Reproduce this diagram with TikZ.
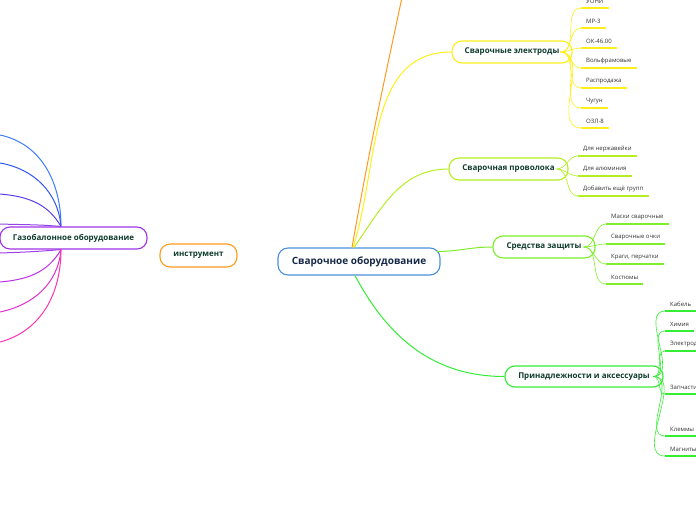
\documentclass[tikz,border=0pt]{standalone}
\usepackage{fontspec}
\setmainfont{Open Sans}
\usepackage{xcolor}
\definecolor{rootc}{HTML}{4A90D9}
\definecolor{roottxt}{HTML}{152848}
\definecolor{txtc}{HTML}{0F3B2E}
\definecolor{orc}{HTML}{FF9A1F}
\definecolor{yelc}{HTML}{FFEE1A}
\definecolor{ygc}{HTML}{B5EE22}
\definecolor{grc}{HTML}{7DEE2A}
\definecolor{grtc}{HTML}{33EE33}
\definecolor{purc}{HTML}{A033E8}
\definecolor{gaa}{HTML}{3D7BFF}
\definecolor{gab}{HTML}{3355F0}
\definecolor{gac}{HTML}{5B3DF0}
\definecolor{gad}{HTML}{9045EC}
\definecolor{gae}{HTML}{A040EC}
\definecolor{gaf}{HTML}{C030E8}
\definecolor{gag}{HTML}{E030D0}
\definecolor{gah}{HTML}{FF33B0}
\tikzstyle{root}=[draw=rootc, line width=1.1pt, rounded corners=10pt, fill=white,
		minimum width=162pt, minimum height=27pt, inner sep=0,
		font=\bfseries\fontsize{10}{12}\selectfont, text=roottxt]
\tikzstyle{br}=[line width=1.1pt, rounded corners=10pt, fill=white, minimum height=22pt,
		inner sep=0, font=\bfseries\fontsize{8}{10}\selectfont, text=txtc]
\tikzstyle{lf}=[anchor=south west, inner xsep=5pt, inner ysep=4pt,
		font=\fontsize{6}{7}\selectfont, text=black!80]
\tikzstyle{ln}=[line width=1pt]
\tikzstyle{lk}=[line width=0.6pt]
\tikzstyle{ul}=[line width=1.8pt]

\begin{document}
\begin{tikzpicture}[x=1pt,y=-1pt]
	\useasboundingbox (0,0) rectangle (696,520);
	\clip (0,0) rectangle (696,520);
	% centre and branches
	\node[root] (sv) at (359,261.5) {Сварочное оборудование};
	\node[br, draw=orc, minimum width=77pt, minimum height=23pt] (ins) at (198.5,255.5) {инструмент};
	\node[br, draw=purc, minimum width=147pt] (gas) at (73.5,238) {Газобалонное оборудование};
	\node[br, draw=yelc, minimum width=120pt] (el) at (512,52) {Сварочные электроды};
	\node[br, draw=ygc, minimum width=119pt] (pr) at (508.5,169) {Сварочная проволока};
	\node[br, draw=grc, minimum width=102pt] (zs) at (544,247) {Средства защиты};
	\node[br, draw=grtc, minimum width=158pt, minimum height=21pt] (ak) at (584,376.5) {Принадлежности и аксессуары};
	\coordinate (hub) at ([xshift=-7pt]sv.north);
	\coordinate (top) at (404,-12);
	\draw[ln, orc] (hub) to[out=80, in=-102] (top);
	\draw[ln, yelc] ([xshift=1pt]hub) to[out=72, in=180] (el.west);
	\draw[ln, ygc] ([xshift=2pt]hub) to[out=55, in=180] (pr.west);
	\draw[ln, grc] ([xshift=-4pt,yshift=10pt]sv.east) to[out=0, in=180] (zs.west);
	\draw[ln, grtc] ([xshift=-4pt]sv.south) to[out=-62, in=180] (ak.west);
	% gas lines
	\coordinate (gt) at ([xshift=-12.5pt]gas.north);
	\coordinate (gb) at ([xshift=-12.5pt]gas.south);
	\coordinate (ga) at (0,135);
	\coordinate (gb2) at (0,163);
	\coordinate (gc) at (0,194);
	\coordinate (gd) at (0,224);
	\coordinate (ge) at (0,253);
	\coordinate (gf) at (0,282);
	\coordinate (gg) at (0,312);
	\coordinate (gh) at (0,342);
	\draw[ln, gaa] (gt) to[out=90, in=-12] (ga);
	\draw[ln, gab] (gt) to[out=95, in=-10] (gb2);
	\draw[ln, gac] (gt) to[out=120, in=-5] (gc);
	\draw[ln, gad] (gt) to[out=175, in=-2] (gd);
	\draw[ln, gae] (gb) to[out=185, in=2] (ge);
	\draw[ln, gaf] (gb) to[out=-120, in=5] (gf);
	\draw[ln, gag] (gb) to[out=-95, in=12] (gg);
	\draw[ln, gah] (gb) to[out=-90, in=15] (gh);
	% electrodes
	\node[lf] (e1) at (581,8) {УОНИ};
	\node[lf] (e2) at (581,28) {МР-3};
	\node[lf] (e3) at (581,48) {ОК-46.00};
	\node[lf] (e4) at (581,68) {Вольфрамовые};
	\node[lf] (e5) at (581,88) {Распродажа};
	\node[lf] (e6) at (581,108) {Чугун};
	\node[lf] (e7) at (581,128) {ОЗЛ-8};
	\draw[lk, yelc] ([xshift=-12pt]el.east) to[out=0, in=180] (e1.south west);
	\draw[lk, yelc] ([xshift=-12pt]el.east) to[out=0, in=180] (e2.south west);
	\draw[lk, yelc] ([xshift=-12pt]el.east) to[out=0, in=180] (e3.south west);
	\draw[lk, yelc] ([xshift=-12pt]el.east) to[out=0, in=180] (e4.south west);
	\draw[lk, yelc] ([xshift=-12pt]el.east) to[out=0, in=180] (e5.south west);
	\draw[lk, yelc] ([xshift=-12pt]el.east) to[out=0, in=180] (e6.south west);
	\draw[lk, yelc] ([xshift=-12pt]el.east) to[out=0, in=180] (e7.south west);
	\draw[ul, yelc] (e1.south west) -- (e1.south east);
	\draw[ul, yelc] (e2.south west) -- (e2.south east);
	\draw[ul, yelc] (e3.south west) -- (e3.south east);
	\draw[ul, yelc] (e4.south west) -- (e4.south east);
	\draw[ul, yelc] (e5.south west) -- (e5.south east);
	\draw[ul, yelc] (e6.south west) -- (e6.south east);
	\draw[ul, yelc] (e7.south west) -- (e7.south east);
	% wire
	\node[lf] (p1) at (578,156) {Для нержавейки};
	\node[lf] (p2) at (578,176) {Для алюминия};
	\node[lf] (p3) at (578,196) {Добавить ещё групп};
	\draw[lk, ygc] ([xshift=-12pt]pr.east) to[out=0, in=180] (p1.south west);
	\draw[lk, ygc] ([xshift=-12pt]pr.east) to[out=0, in=180] (p2.south west);
	\draw[lk, ygc] ([xshift=-12pt]pr.east) to[out=0, in=180] (p3.south west);
	\draw[ul, ygc] (p1.south west) -- (p1.south east);
	\draw[ul, ygc] (p2.south west) -- (p2.south east);
	\draw[ul, ygc] (p3.south west) -- (p3.south east);
	% protection
	\node[lf] (z1) at (606,224) {Маски сварочные};
	\node[lf] (z2) at (606,244) {Сварочные очки};
	\node[lf] (z3) at (606,264) {Краги, перчатки};
	\node[lf] (z4) at (606,284) {Костюмы};
	\draw[lk, grc] ([xshift=-12pt]zs.east) to[out=0, in=180] (z1.south west);
	\draw[lk, grc] ([xshift=-12pt]zs.east) to[out=0, in=180] (z2.south west);
	\draw[lk, grc] ([xshift=-12pt]zs.east) to[out=0, in=180] (z3.south west);
	\draw[lk, grc] ([xshift=-12pt]zs.east) to[out=0, in=180] (z4.south west);
	\draw[ul, grc] (z1.south west) -- (z1.south east);
	\draw[ul, grc] (z2.south west) -- (z2.south east);
	\draw[ul, grc] (z3.south west) -- (z3.south east);
	\draw[ul, grc] (z4.south west) -- (z4.south east);
	% accessories
	\node[lf] (a1) at (665,311) {Кабель};
	\node[lf] (a2) at (665,331) {Химия};
	\node[lf] (a3) at (665,351) {Электроды};
	\node[lf] (a4) at (665,394) {Запчасти};
	\node[lf] (a5) at (665,436) {Клеммы};
	\node[lf] (a6) at (665,456) {Магниты};
	\draw[lk, grtc] ([xshift=-10pt]ak.east) to[out=0, in=180] (a1.south west);
	\draw[lk, grtc] ([xshift=-10pt]ak.east) to[out=0, in=180] (a2.south west);
	\draw[lk, grtc] ([xshift=-10pt]ak.east) to[out=0, in=180] (a3.south west);
	\draw[lk, grtc] ([xshift=-10pt]ak.east) to[out=0, in=180] (a4.south west);
	\draw[lk, grtc] ([xshift=-10pt]ak.east) to[out=0, in=180] (a5.south west);
	\draw[lk, grtc] ([xshift=-10pt]ak.east) to[out=0, in=180] (a6.south west);
	\draw[ul, grtc] (a1.south west) -- (a1.south east);
	\draw[ul, grtc] (a2.south west) -- (a2.south east);
	\draw[ul, grtc] (a3.south west) -- (a3.south east);
	\draw[ul, grtc] (a4.south west) -- (a4.south east);
	\draw[ul, grtc] (a5.south west) -- (a5.south east);
	\draw[ul, grtc] (a6.south west) -- (a6.south east);
\end{tikzpicture}
\end{document}
